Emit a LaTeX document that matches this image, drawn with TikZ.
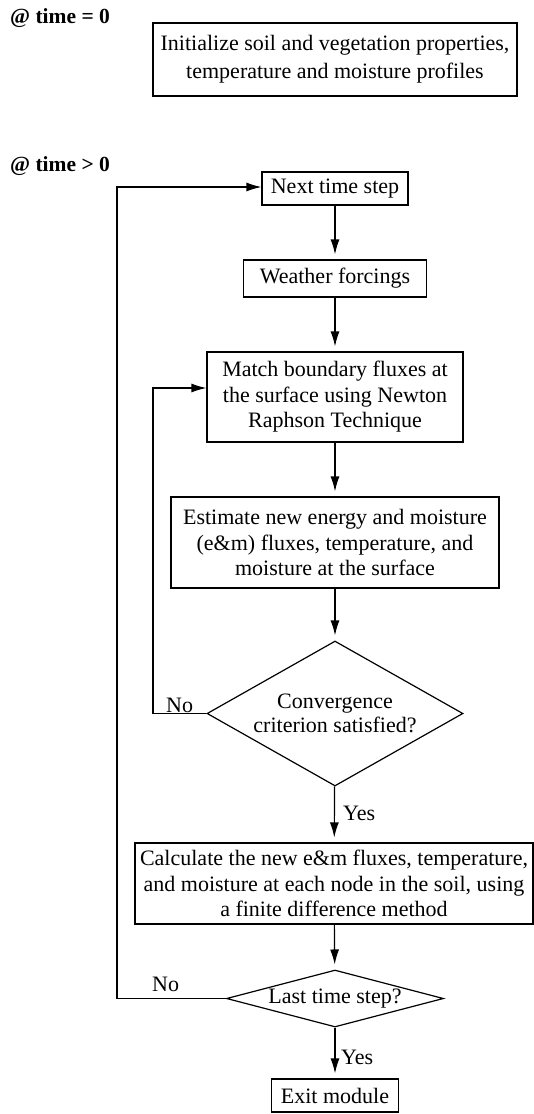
\documentclass[tikz,border=0pt]{standalone}
\usepackage{fontspec}
\setmainfont{Liberation Serif}
\usetikzlibrary{shapes.geometric,arrows.meta,calc}
\tikzset{
  box/.style={draw,line width=1.2pt,inner sep=0pt,align=center,
    font=\fontsize{22}{25.5}\selectfont},
  dia/.style={draw,diamond,line width=1.2pt,inner sep=0pt,align=center,
    font=\fontsize{22}{24}\selectfont},
  lbl/.style={inner sep=0pt,font=\fontsize{22}{25.5}\selectfont},
  hdr/.style={inner sep=0pt,anchor=base west,font=\fontsize{21.5}{25.5}\selectfont\bfseries},
  arr/.style={line width=1.2pt,-{Latex[length=15pt,width=9pt]}},
  varr/.style={arr,shorten >=5pt}
}
\begin{document}
\begin{tikzpicture}[x=1pt,y=-1pt]
\useasboundingbox (0,0) rectangle (534,1114);
\node[hdr] (h0) at (10,23) {@ time = 0};
\node[hdr] (h1) at (10,171) {@ time > 0};
\node[box,minimum width=364pt,minimum height=73pt,
  font=\fontsize{22}{28}\selectfont] (init) at (335,59.5)
  {Initialize soil and vegetation properties,\\ temperature and moisture profiles};
\node[box,minimum width=146pt,minimum height=33pt] (next) at (335,188.5) {Next time step};
\node[box,minimum width=183pt,minimum height=37pt] (weather) at (335,278.5) {Weather forcings};
\node[box,minimum width=256pt,minimum height=90pt] (match) at (335,397)
  {Match boundary fluxes at\\ the surface using Newton\\ Raphson Technique};
\node[box,minimum width=328pt,minimum height=91pt] (est) at (335,542.5)
  {Estimate new energy and moisture\\ (e\&m) fluxes, temperature, and\\ moisture at the surface};
\node[dia,minimum width=256pt,minimum height=145pt,aspect=1.77] (d1) at (335,713.5)
  {Convergence\\ criterion satisfied?};
\node[box,minimum width=398pt,minimum height=81pt] (calc) at (334,883.5)
  {Calculate the new e\&m fluxes, temperature,\\ and moisture at each node in the soil, using\\ a finite difference method};
\node[dia,minimum width=217pt,minimum height=57pt,aspect=3.8] (d2) at (335,998.5)
  {Last time step?};
\node[box,minimum width=127pt,minimum height=33pt] (exit) at (335,1095.5) {Exit module};

\draw[varr] (next) -- (weather);
\draw[varr] (weather) -- (match);
\draw[varr] (match) -- (est);
\draw[varr] (est) -- (d1);
\draw[varr] (d1) -- (calc);
\draw[varr] (calc) -- (d2);
\draw[varr] (d2) -- (exit);

\coordinate (c1) at (153,713.5);
\coordinate (c2) at (117,998.5);
\draw[arr] (d1.west) -- (c1) |- ([yshift=9pt]match.west);
\draw[arr] (d2.west) -- (c2) |- ([yshift=1.5pt]next.west);

\node[lbl,anchor=base west] (no1) at (166,712) {No};
\node[lbl,anchor=base west] (no2) at (152,991) {No};
\node[lbl,anchor=base west] (yes1) at (343,820) {Yes};
\node[lbl,anchor=base west] (yes2) at (341,1064) {Yes};
\end{tikzpicture}
\end{document}
